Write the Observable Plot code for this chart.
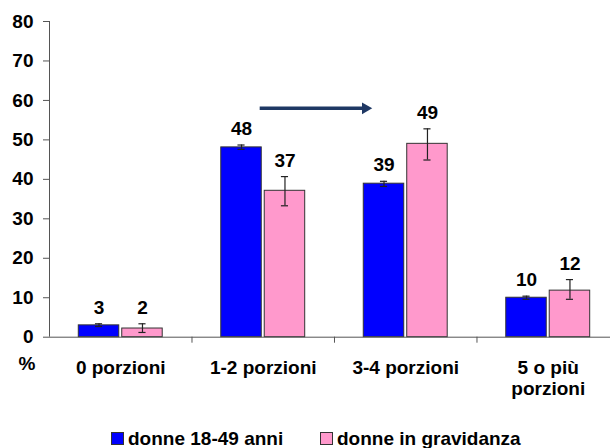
<!DOCTYPE html>
<html><head><meta charset="utf-8">
<script src="https://cdn.jsdelivr.net/npm/d3@7"></script>
<script src="https://cdn.jsdelivr.net/npm/@observablehq/plot@0.6"></script>
<style>
html,body{margin:0;padding:0;background:#fff;}
body{width:610px;height:448px;position:relative;overflow:hidden;font-family:"Liberation Sans",Arial,sans-serif;}
#chart{position:absolute;left:0;top:0;}
#legend{position:absolute;top:429px;left:0;width:610px;height:19px;font:bold 19px "Liberation Sans",Arial,sans-serif;color:#000;}
.item{position:absolute;top:0;display:flex;align-items:center;white-space:nowrap;line-height:19px;}
.sw{width:11px;height:11px;border:1px solid #333;margin-right:4px;display:inline-block;}
</style></head><body>
<div id="chart"></div>
<div id="legend"></div>
<script>
// ---- data ----
const categories = ["0 porzioni", "1-2 porzioni", "3-4 porzioni", "5 o più\nporzioni"];
const seriesNames = ["donne 18-49 anni", "donne in gravidanza"];
const seriesColors = ["#0000FF", "#FF99CC"];
const donne1849 = [3.0, 48.1, 38.9, 10.0];
const donne1849Low = [2.7, 47.6, 38.2, 9.6];
const donne1849High = [3.4, 48.7, 39.5, 10.4];
const gravidanza = [2.2, 37.1, 49.0, 11.8];
const gravidanzaLow = [1.2, 33.3, 44.9, 9.6];
const gravidanzaHigh = [3.4, 40.7, 52.8, 14.6];
const yTicks = [0, 10, 20, 30, 40, 50, 60, 70, 80];
const yAxisLabel = "%";
// arrow annotation: from group "1-2 porzioni" toward "3-4 porzioni" at 58%
const arrowFrom = {x: 0.975, y: 58};
const arrowTo = {x: 1.764, y: 58};

// ---- build table ----
const seriesVals = [donne1849, gravidanza];
const seriesLow = [donne1849Low, gravidanzaLow];
const seriesHigh = [donne1849High, gravidanzaHigh];
const offsets = [-0.1525, 0.1525];
const half = 0.142;
const rows = [];
categories.forEach((c, i) => {
  seriesNames.forEach((s, k) => {
    rows.push({i, series: s, pos: i + offsets[k], value: seriesVals[k][i], lo: seriesLow[k][i], hi: seriesHigh[k][i]});
  });
});

const axisColor = "#555";
const arrowColor = "#1F3864";
const headBack = 0.047; // triangle centroid offset from the tip, in x units
const fs = 19;
const plot = Plot.plot({
  width: 610,
  height: 420,
  marginLeft: 49,
  marginRight: 0,
  marginTop: 21,
  marginBottom: 83.3,
  x: {domain: [-0.5, 3.437], axis: null},
  y: {domain: [0, 80], axis: null},
  color: {domain: seriesNames, range: seriesColors},
  style: {fontFamily: "'Liberation Sans', Arial, sans-serif", fontSize: fs + "px", fontWeight: "bold", color: "#000", background: "#fff"},
  marks: [
    Plot.axisY({ticks: yTicks, tickSize: 6, tickPadding: 10, stroke: axisColor, fill: "#000", label: null, fontSize: fs, fontWeight: "bold"}),
    Plot.axisX({ticks: [0.5, 1.5, 2.5], tickSize: 6, tickFormat: () => "", stroke: axisColor, label: null}),
    Plot.axisX({ticks: [0, 1, 2, 3], tickSize: 0, tickPadding: 22, tickFormat: i => categories[i], fill: "#000", label: null, lineHeight: 1.1, fontSize: fs, fontWeight: "bold"}),
    Plot.rect(rows, {x1: d => d.pos - half, x2: d => d.pos + half, y1: 0, y2: "value", fill: "series", stroke: "#333", strokeWidth: 1}),
    Plot.ruleX(rows, {x: "pos", y1: "lo", y2: "hi", stroke: "#222", strokeWidth: 1.2}),
    Plot.ruleY(rows, {y: "hi", x1: d => d.pos - 0.025, x2: d => d.pos + 0.025, stroke: "#222", strokeWidth: 1.2}),
    Plot.ruleY(rows, {y: "lo", x1: d => d.pos - 0.025, x2: d => d.pos + 0.025, stroke: "#222", strokeWidth: 1.2}),
    Plot.text(rows, {x: "pos", y: "hi", text: d => String(Math.round(d.value)), dy: -10, lineAnchor: "bottom", fill: "#000", fontSize: fs, fontWeight: "bold"}),
    Plot.ruleX([-0.5], {stroke: axisColor, strokeWidth: 1}),
    Plot.ruleY([0], {stroke: axisColor, strokeWidth: 1}),
    Plot.link([{x1: arrowFrom.x, y1: arrowFrom.y, x2: arrowTo.x - headBack, y2: arrowTo.y}], {x1: "x1", y1: "y1", x2: "x2", y2: "y2", stroke: arrowColor, strokeWidth: 3.5}),
    Plot.dot([arrowTo], {x: d => d.x - headBack, y: "y", symbol: "triangle", rotate: 90, r: 4.4, fill: arrowColor, stroke: "none"}),
    Plot.text([yAxisLabel], {frameAnchor: "bottom-left", text: d => d, textAnchor: "middle", dx: -22.5, dy: 33, fill: "#000", fontSize: fs, fontWeight: "bold"})
  ]
});
document.getElementById("chart").appendChild(plot);

// ---- legend ----
const legend = document.getElementById("legend");
const legendX = [111, 320];
seriesNames.forEach((s, k) => {
  const it = document.createElement("div");
  it.className = "item";
  it.style.left = legendX[k] + "px";
  const sw = document.createElement("span");
  sw.className = "sw";
  sw.style.background = seriesColors[k];
  const tx = document.createElement("span");
  tx.textContent = s;
  it.appendChild(sw); it.appendChild(tx);
  legend.appendChild(it);
});
</script>
</body></html>
